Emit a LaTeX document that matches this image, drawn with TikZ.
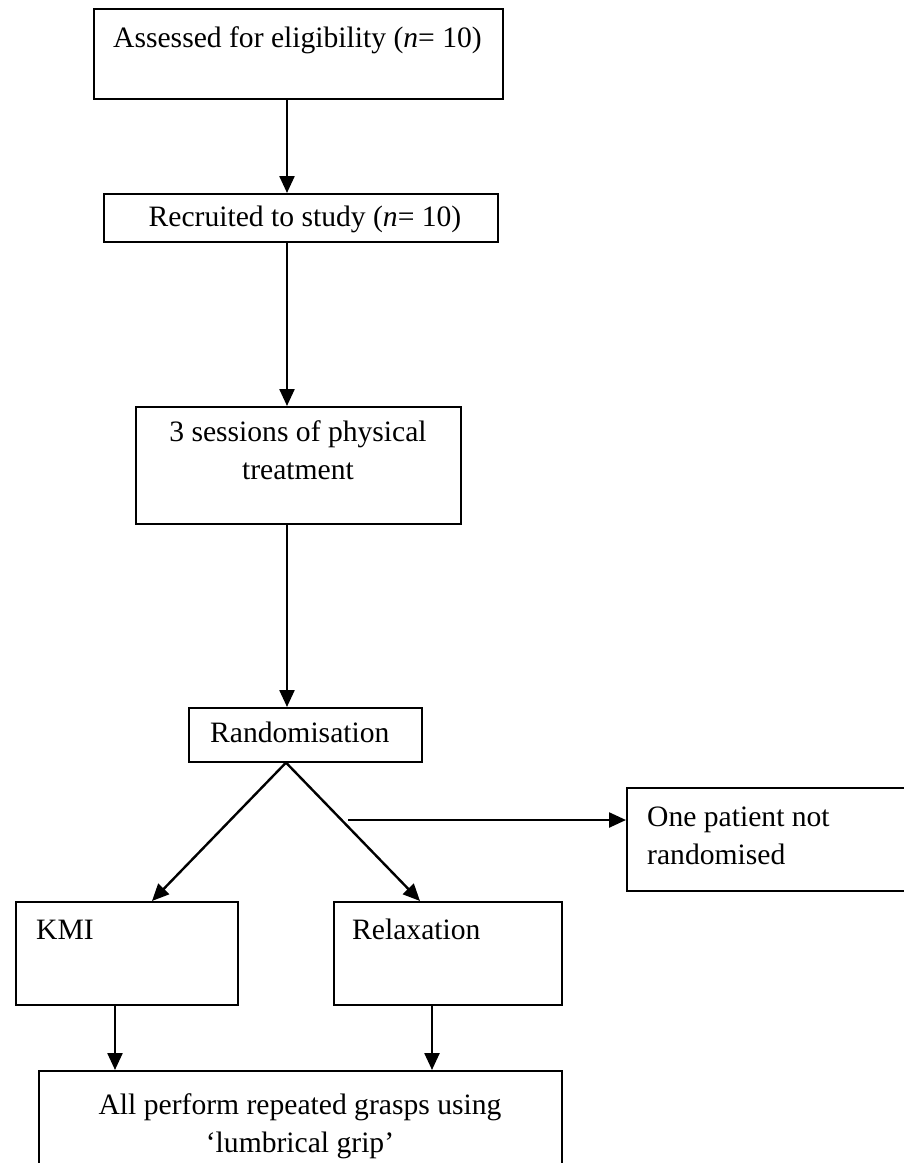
\documentclass[tikz,border=0pt]{standalone}
\usepackage{fontspec}
\setmainfont{Liberation Serif}
\usetikzlibrary{arrows.meta}
\begin{document}
\begin{tikzpicture}[x=1pt,y=-1pt,
  box/.style={draw, line width=1.6pt, inner sep=0pt, anchor=north west},
  txt/.style={inner sep=0pt, font=\fontsize{29.6}{38}\selectfont},
  conn/.style={line width=2.4pt, -{Triangle[length=17pt,width=15pt]}}]
\useasboundingbox (0,0) rectangle (904,1163);
\clip (0,0) rectangle (904,1163);
% boxes
\node[box, minimum width=409pt, minimum height=90pt] (b1) at (93,8) {};
\node[box, minimum width=394pt, minimum height=48pt] (b2) at (103,193) {};
\node[box, minimum width=325pt, minimum height=117pt] (b3) at (135,406) {};
\node[box, minimum width=233pt, minimum height=54pt] (b4) at (188,707) {};
\node[box, minimum width=300pt, minimum height=103pt] (np) at (626,787) {};
\node[box, minimum width=222pt, minimum height=103pt] (kmi) at (15,901) {};
\node[box, minimum width=228pt, minimum height=103pt] (rel) at (333,901) {};
\node[box, minimum width=523pt, minimum height=120pt] (all) at (38,1070) {};
% texts (base anchor = last line baseline)
\node[txt, anchor=base west] (t1) at (113,47) {Assessed for eligibility (\textit{n}= 10)};
\node[txt, anchor=base] (t2) at (305,226) {Recruited to study (\textit{n}= 10)};
\node[txt, anchor=base, align=center] (t3) at (298,479) {3 sessions of physical\\treatment};
\node[txt, anchor=base west] (t4) at (210,742) {Randomisation};
\node[txt, anchor=base west, align=left] (t5) at (647,864) {One patient not\\randomised};
\node[txt, anchor=base west] (t6) at (36,939) {KMI};
\node[txt, anchor=base west] (t7) at (352,939) {Relaxation};
\node[txt, anchor=base, align=center] (t8) at (300,1152) {All perform repeated grasps using\\`lumbrical grip'};
% coordinates
\coordinate (kmitop) at (152,901);
\coordinate (reltop) at (420,901);
\coordinate (hstart) at (348,820);
\coordinate (kmiarr) at (115,1004);
\coordinate (relarr) at (432,1004);
% connectors
\draw[conn] (b1.south -| 287,0) -- (b2.north -| 287,0);
\draw[conn] (b2.south -| 287,0) -- (b3.north -| 287,0);
\draw[conn] (b3.south -| 287,0) -- (b4.north -| 287,0);
\draw[conn] (b4.south -| 286,0) -- (kmitop);
\draw[conn] (b4.south -| 286,0) -- (reltop);
\draw[conn] (hstart) -- (hstart -| np.west);
\draw[conn] (kmiarr) -- (kmiarr |- all.north);
\draw[conn] (relarr) -- (relarr |- all.north);
\end{tikzpicture}
\end{document}
